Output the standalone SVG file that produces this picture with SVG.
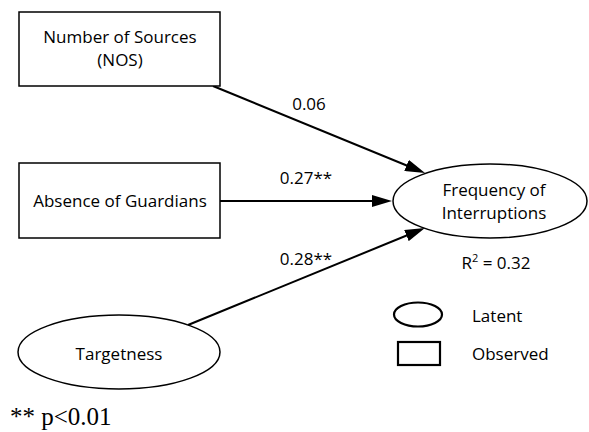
<svg xmlns="http://www.w3.org/2000/svg" width="589" height="432" viewBox="0 0 589 432">
<style>
  .box { fill: #fff; stroke: #000; stroke-width: 1.5; }
  .lbl { font-family: "Open Sans", "DejaVu Sans", sans-serif; font-size: 17px; fill: #000; text-anchor: middle; }
  .start { text-anchor: start; }
  .edge { stroke: #000; stroke-width: 2; fill: none; }
  .leg { fill: #fff; stroke: #000; stroke-width: 2.2; }
</style>
<defs>
  <marker id="arr" markerUnits="userSpaceOnUse" markerWidth="20" markerHeight="12" refX="14" refY="6" orient="auto">
    <path d="M0,0 L20,6 L0,12 Z" fill="#000"/>
  </marker>
</defs>
<rect width="589" height="432" fill="#fff"/>
<g id="connectors">
  <line class="edge" x1="213" y1="86" x2="419.5" y2="170.7" marker-end="url(#arr)"/>
  <line class="edge" x1="220" y1="201" x2="386" y2="201" marker-end="url(#arr)"/>
  <line class="edge" x1="188" y1="325" x2="419.4" y2="230.3" marker-end="url(#arr)"/>
  <text class="lbl" x="309" y="110">0.06</text>
  <text class="lbl" x="306" y="184">0.27**</text>
  <text class="lbl" x="306" y="265">0.28**</text>
</g>
<g id="nos">
  <rect class="box" x="19" y="12" width="201" height="74"/>
  <text class="lbl" x="120" y="43">Number of Sources</text>
  <text class="lbl" x="120" y="66">(NOS)</text>
</g>
<g id="guardians">
  <rect class="box" x="19" y="163" width="201" height="75"/>
  <text class="lbl" x="120" y="207">Absence of Guardians</text>
</g>
<g id="targetness">
  <ellipse class="box" cx="119" cy="352" rx="101" ry="37"/>
  <text class="lbl" x="119" y="360">Targetness</text>
</g>
<g id="frequency">
  <ellipse class="box" cx="490" cy="201" rx="97" ry="37"/>
  <text class="lbl" x="494" y="196">Frequency of</text>
  <text class="lbl" x="494" y="219">Interruptions</text>
  <text class="lbl" x="496" y="269">R<tspan dy="-7" font-size="11">2</tspan><tspan dy="7"> = 0.32</tspan></text>
</g>
<g id="legend">
  <ellipse class="leg" cx="418" cy="314.5" rx="24" ry="12"/>
  <rect class="leg" x="398" y="342" width="42" height="23"/>
  <text class="lbl start" x="472" y="322">Latent</text>
  <text class="lbl start" x="472" y="360">Observed</text>
</g>
<text x="10" y="425" font-family="Liberation Serif, serif" font-size="25">** p&lt;0.01</text>
</svg>
